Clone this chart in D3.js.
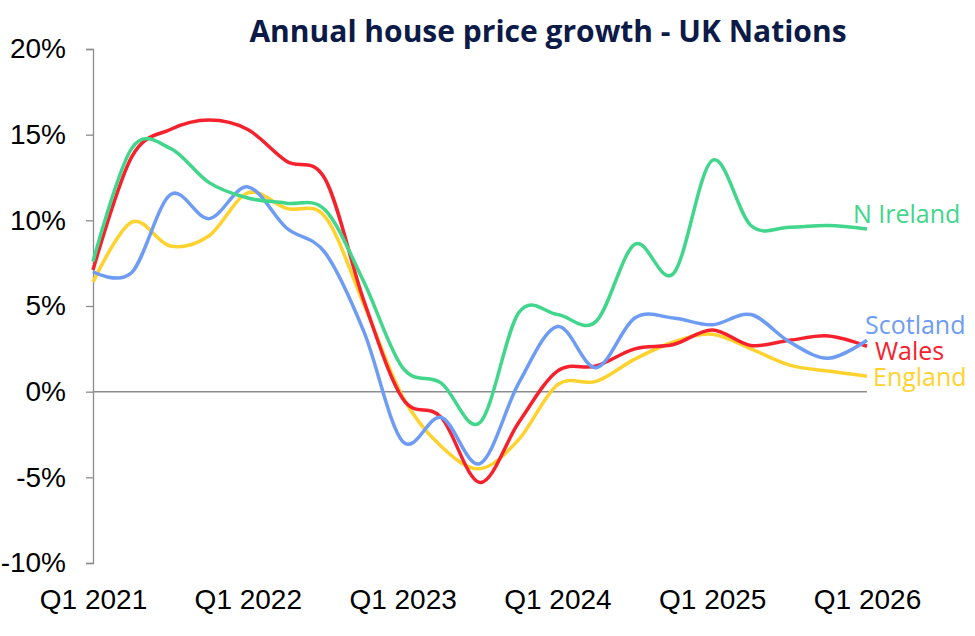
<!DOCTYPE html>
<html lang="en">
  <head>
    <meta charset="utf-8">
    <title>Annual house price growth - UK Nations</title>
    <style>
        body { margin: 0; background: #fff; }
        svg { display: block; }
    </style>
    <script src="https://d3js.org/d3.v7.min.js"></script>
  </head>
  <body>
    <script>
    // quarterly, Q1 2021 .. Q1 2026
    const quarters = d3.range(21);
    const tickQuarters = [0, 4, 8, 12, 16, 20];
    const tickLabels = ["Q1 2021", "Q1 2022", "Q1 2023", "Q1 2024", "Q1 2025", "Q1 2026"];
    const yTicks = [-10, -5, 0, 5, 10, 15, 20];

    const nIreland = [7.6, 14.2, 14.2, 12.2, 11.3, 11.0, 10.6, 6.4, 1.4, 0.5, -1.8, 4.6, 4.5, 4.1, 8.6, 6.9, 13.5, 9.7, 9.6, 9.7, 9.5];
    const wales    = [7.1, 13.7, 15.3, 15.85, 15.3, 13.45, 12.4, 5.3, -0.4, -1.5, -5.3, -1.8, 1.2, 1.5, 2.5, 2.75, 3.6, 2.7, 3.0, 3.25, 2.65];
    const scotland = [7.0, 6.95, 11.5, 10.1, 11.95, 9.55, 8.1, 3.5, -2.9, -1.5, -4.2, 0.5, 3.8, 1.4, 4.3, 4.3, 3.9, 4.5, 2.9, 1.95, 3.0];
    const england  = [6.4, 9.9, 8.5, 9.1, 11.6, 10.7, 10.2, 5.1, -0.3, -3.2, -4.5, -2.8, 0.4, 0.6, 1.9, 2.9, 3.35, 2.5, 1.55, 1.2, 0.9];

    const series = [
        { name: "England",   values: england,  color: "#ffd22e", dx: 6,   dy: 10 },
        { name: "Wales",     values: wales,    color: "#f5222d", dx: 8,   dy: 14 },
        { name: "Scotland",  values: scotland, color: "#6e9cf5", dx: -2,  dy: -6.5 },
        { name: "N Ireland", values: nIreland, color: "#41d68b", dx: -14, dy: -6 }
    ];

    const width = 975, height = 636;

    const svg = d3.select("body")
        .append("svg")
        .attr("width", width)
        .attr("height", height);

    const x = d3.scaleLinear()
        .domain([0, 20])
        .range([93, 867]);

    const y = d3.scaleLinear()
        .domain([-10, 20])
        .range([563, 49]);

    svg.append("text")
        .attr("x", 548)
        .attr("y", 42)
        .text("Annual house price growth - UK Nations")
        .style("fill", "#0b1a47")
        .style("font-family", "'Open Sans', sans-serif")
        .style("font-size", "30px")
        .style("font-weight", "bold")
        .style("text-anchor", "middle");

    // y axis
    const yAxis = g => g.attr("transform", "translate(93,0)")
        .call(d3.axisLeft(y).tickValues(yTicks).tickSize(7).tickPadding(20).tickFormat(d => d + "%"))
        .call(g => g.select(".domain").attr("stroke", "#8c8c8c").attr("stroke-width", 1.3))
        .call(g => g.selectAll(".tick line").attr("stroke", "#8c8c8c").attr("stroke-width", 1.3))
        .call(g => g.selectAll(".tick text")
            .style("font-family", "'Liberation Sans', Arial, sans-serif")
            .style("font-size", "28px")
            .style("fill", "#000"));

    svg.append("g").call(yAxis);

    // x axis labels only
    const xAxis = g => g.attr("transform", "translate(0,589)")
        .call(d3.axisBottom(x).tickValues(tickQuarters).tickSize(0).tickPadding(0)
            .tickFormat((d, i) => tickLabels[i]))
        .call(g => g.select(".domain").remove())
        .call(g => g.selectAll(".tick text")
            .style("font-family", "'Liberation Sans', Arial, sans-serif")
            .style("font-size", "28px")
            .style("fill", "#000"));

    svg.append("g").call(xAxis);

    // zero line
    svg.append("line")
        .attr("x1", x(0))
        .attr("x2", x(20))
        .attr("y1", y(0))
        .attr("y2", y(0))
        .attr("stroke", "#8c8c8c")
        .attr("stroke-width", 1.5);

    const line = d3.line()
        .x((d, i) => x(quarters[i]))
        .y(d => y(d))
        .curve(d3.curveCatmullRom.alpha(0));

    svg.selectAll(".series")
        .data(series)
        .join("path")
        .attr("class", "series")
        .attr("fill", "none")
        .attr("stroke", d => d.color)
        .attr("stroke-width", 3.5)
        .attr("stroke-linejoin", "round")
        .attr("d", d => line(d.values));

    svg.selectAll(".label")
        .data(series)
        .join("text")
        .attr("class", "label")
        .attr("x", d => x(20) + d.dx)
        .attr("y", d => y(d.values[20]) + d.dy)
        .text(d => d.name)
        .style("fill", d => d.color)
        .style("font-family", "'Open Sans', sans-serif")
        .style("font-size", "25px");
    </script>
  </body>
</html>
